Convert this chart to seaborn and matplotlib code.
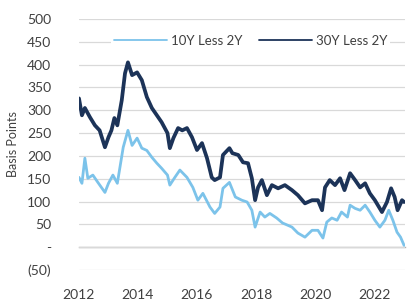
import matplotlib
matplotlib.use("Agg")
import matplotlib.pyplot as plt
import matplotlib.ticker as mticker
import pandas as pd
import seaborn as sns

# fractional years and spreads (bp)
years_10y = [2012.0, 2012.1, 2012.2, 2012.3, 2012.47, 2012.64, 2012.88, 2013.0, 2013.15, 2013.3,
             2013.5, 2013.66, 2013.8, 2013.97, 2014.13, 2014.3, 2014.47, 2014.64, 2014.8, 2015.0,
             2015.08, 2015.25, 2015.42, 2015.66, 2015.86, 2016.03, 2016.2, 2016.44, 2016.6, 2016.78,
             2016.88, 2017.1, 2017.3, 2017.52, 2017.7, 2017.86, 2017.97, 2018.14, 2018.3, 2018.47,
             2018.7, 2018.9, 2019.08, 2019.22, 2019.42, 2019.66, 2019.9, 2020.1, 2020.27, 2020.4,
             2020.57, 2020.75, 2020.9, 2021.1, 2021.19, 2021.36, 2021.53, 2021.7, 2021.86, 2022.03,
             2022.2, 2022.37, 2022.5, 2022.64, 2022.78, 2022.9, 2023.02]
spread_10y = [153, 140, 195, 151, 158, 142, 120, 140, 158, 140,
              219, 256, 223, 239, 217, 212, 197, 184, 173, 158,
              136, 153, 169, 153, 131, 103, 118, 88, 74, 88,
              129, 142, 110, 103, 99, 81, 44, 77, 66, 74,
              64, 53, 48, 44, 31, 22, 37, 37, 20, 55,
              64, 59, 77, 66, 92, 85, 81, 92, 77, 59,
              44, 59, 81, 59, 33, 22, 4]

years_30y = [2012.0, 2012.1, 2012.2, 2012.37, 2012.54, 2012.7, 2012.88, 2013.0, 2013.1, 2013.2,
             2013.3, 2013.45, 2013.56, 2013.66, 2013.8, 2013.97, 2014.13, 2014.3, 2014.47, 2014.64,
             2014.8, 2015.0, 2015.08, 2015.2, 2015.36, 2015.5, 2015.66, 2015.83, 2016.0, 2016.17,
             2016.34, 2016.5, 2016.6, 2016.78, 2016.88, 2017.1, 2017.2, 2017.4, 2017.56, 2017.73,
             2017.86, 2017.97, 2018.07, 2018.2, 2018.37, 2018.54, 2018.75, 2018.98, 2019.22, 2019.42,
             2019.66, 2019.9, 2020.1, 2020.24, 2020.34, 2020.5, 2020.68, 2020.85, 2021.0, 2021.19,
             2021.36, 2021.53, 2021.7, 2021.86, 2022.03, 2022.27, 2022.44, 2022.58, 2022.7, 2022.8,
             2022.95, 2023.02]
spread_30y = [326, 289, 305, 285, 267, 256, 219, 241, 256, 283,
              267, 322, 381, 405, 377, 383, 366, 329, 305, 289,
              274, 250, 217, 239, 261, 256, 261, 241, 213, 228,
              195, 153, 147, 153, 202, 217, 206, 202, 186, 184,
              151, 103, 131, 147, 114, 136, 129, 136, 125, 114,
              96, 103, 103, 81, 131, 147, 136, 151, 125, 162,
              147, 131, 140, 118, 103, 77, 99, 129, 110, 81,
              103, 99]

series_names = ["10Y Less 2Y", "30Y Less 2Y"]
colors = ["#7cc3ea", "#1c3358"]
year_ticks = [2012, 2014, 2016, 2018, 2020, 2022]
bp_ticks = [-50, 0, 50, 100, 150, 200, 250, 300, 350, 400, 450, 500]

df = pd.concat([
    pd.DataFrame({"year": years_10y, "bp": spread_10y, "series": series_names[0]}),
    pd.DataFrame({"year": years_30y, "bp": spread_30y, "series": series_names[1]}),
])

sns.set_style("white")
plt.rcParams["font.family"] = ["Lato", "DejaVu Sans"]

fig = plt.figure(figsize=(4.19, 3.04), dpi=100)
ax = fig.add_axes([0.1885, 0.1118, 0.778, 0.8257])

sns.lineplot(data=df, x="year", y="bp", hue="series", hue_order=series_names,
             palette=colors, ax=ax, legend=False, sort=False)
for line, lw in zip(ax.lines, [2.0, 2.7]):
    line.set_linewidth(lw)

ax.set_xlim(2012, 2023.05)
ax.set_ylim(-50, 500)
ax.set_yticks(bp_ticks)
ax.set_xticks(year_ticks)


def bp_fmt(v, pos):
    if v == 0:
        return "-"
    if v < 0:
        return "(%d)" % abs(v)
    return "%d" % v


ax.yaxis.set_major_formatter(mticker.FuncFormatter(bp_fmt))
ax.grid(axis="y", color="#d9d9d9", linewidth=0.9)
ax.grid(axis="x", visible=False)
ax.set_axisbelow(True)

for s in ["top", "right", "left"]:
    ax.spines[s].set_visible(False)
ax.spines["bottom"].set_position(("data", 0))
ax.spines["bottom"].set_color("#b0b0b0")
ax.spines["bottom"].set_linewidth(1.0)
ax.spines["bottom"].set_zorder(0.5)

ax.tick_params(axis="x", direction="inout", length=8, width=1.0, color="#a6a6a6",
               pad=26, labelsize=10, labelcolor="#404040")
ax.tick_params(axis="y", length=0, pad=20, labelsize=10, labelcolor="#404040")

ax.set_xlabel("")
ax.set_ylabel("Basis Points", fontsize=9, color="#404040", labelpad=6)

handles = [plt.Line2D([], [], color=c, linewidth=1.3) for c in colors]
leg = ax.legend(handles, series_names, loc="center", bbox_to_anchor=(0.527, 0.912),
                ncol=2, frameon=True, fontsize=9.5, handlelength=4.0, columnspacing=1.3,
                handletextpad=0.3, borderpad=0.2)
leg.get_frame().set_facecolor("white")
leg.get_frame().set_edgecolor("none")
leg.get_frame().set_alpha(1)
for t in leg.get_texts():
    t.set_color("#404040")

fig.savefig("out.png", dpi=100)
